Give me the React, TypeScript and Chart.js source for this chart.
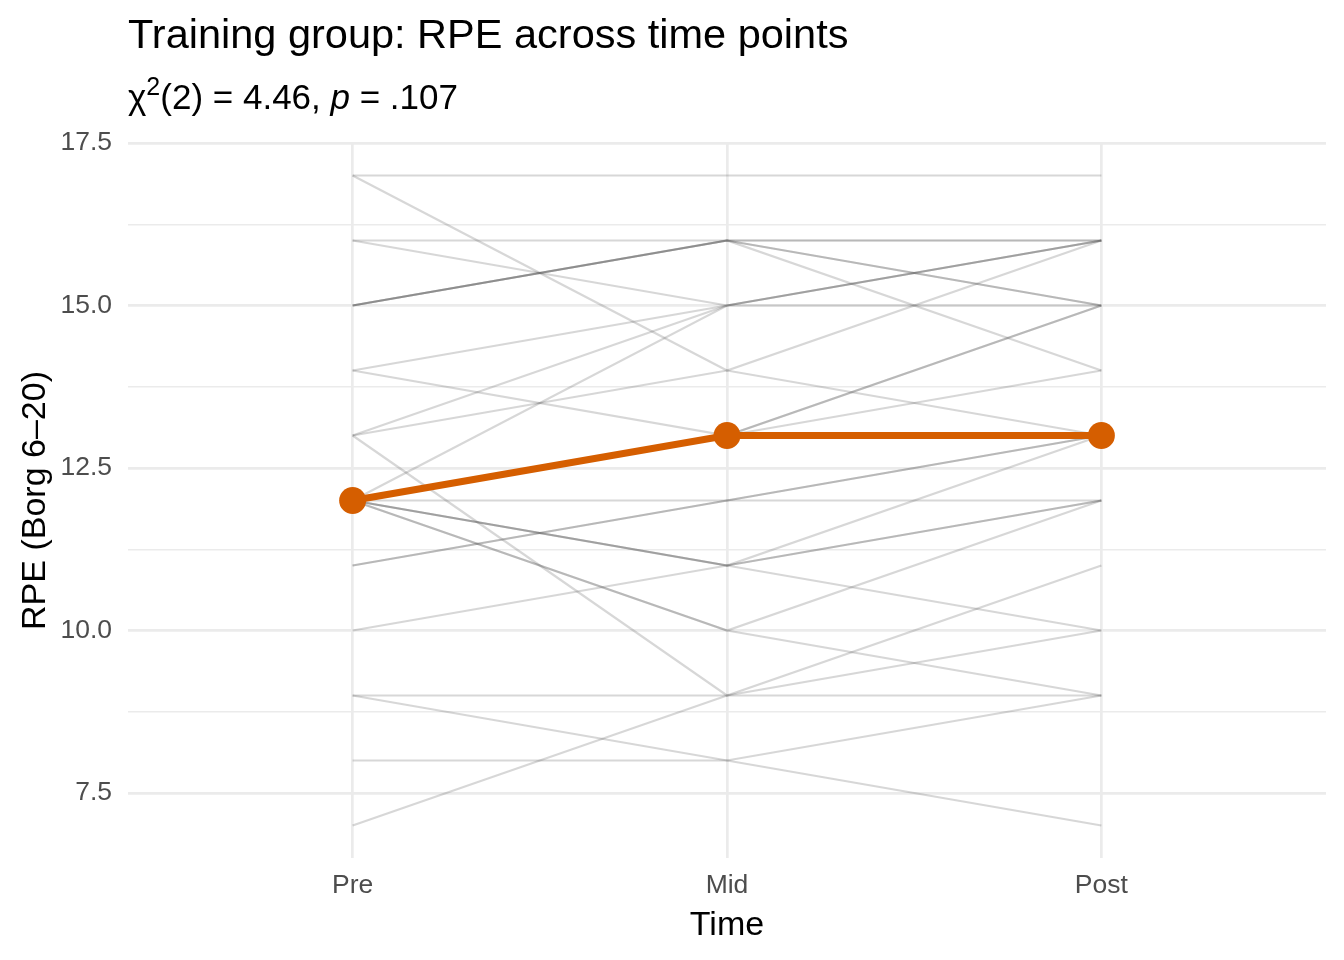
import React, { useEffect, useRef } from "react";
import { Chart, registerables } from "chart.js";

Chart.register(...registerables);

const timePoints = ["Pre", "Mid", "Post"];
// one entry per participant
const preRPE = [17, 16, 15, 15, 15, 15, 16, 14, 13, 12, 17, 13, 14, 12, 12, 12, 11, 11, 12, 12, 12, 10, 12, 12, 13, 9, 7, 9, 8];
const midRPE = [17, 16, 16, 16, 16, 16, 15, 15, 15, 15, 14, 14, 13, 13, 13, 12, 12, 12, 11, 11, 11, 11, 10, 10, 9, 9, 9, 8, 8];
const postRPE = [17, 16, 16, 15, 15, 14, 16, 16, 16, 15, 16, 13, 15, 15, 14, 12, 13, 13, 13, 12, 12, 10, 12, 9, 11, 9, 10, 9, 7];
const medianRPE = [12, 13, 13];
const yMajorTicks = [7.5, 10, 12.5, 15, 17.5];
const yMinorTicks = [8.75, 11.25, 13.75, 16.25];

const FONT = '"Liberation Sans", Arial, Helvetica, sans-serif';
const ORANGE = "#D55E00";

const textPlugin = {
  id: "ggText",
  afterDraw(chart: any) {
    const ctx = chart.ctx as CanvasRenderingContext2D;
    const area = chart.chartArea;
    ctx.save();
    ctx.fillStyle = "#000000";
    ctx.textBaseline = "alphabetic";
    ctx.textAlign = "left";
    // title
    ctx.font = `41.5px ${FONT}`;
    ctx.fillText("Training group: RPE across time points", area.left, 48);
    // subtitle with superscript and italic p
    let x = area.left;
    const base = 109;
    ctx.font = `35px ${FONT}`;
    ctx.fillText("χ", x, base);
    x += ctx.measureText("χ").width;
    ctx.font = `25px ${FONT}`;
    ctx.fillText("2", x, base - 14);
    x += ctx.measureText("2").width;
    ctx.font = `35px ${FONT}`;
    const s1 = "(2) = 4.46, ";
    ctx.fillText(s1, x, base);
    x += ctx.measureText(s1).width;
    ctx.font = `italic 35px ${FONT}`;
    ctx.fillText("p", x, base);
    x += ctx.measureText("p").width;
    ctx.font = `35px ${FONT}`;
    ctx.fillText(" = .107", x, base);
    // x axis title
    ctx.font = `34px ${FONT}`;
    ctx.textAlign = "center";
    ctx.fillText("Time", (area.left + area.right) / 2, 935);
    // y axis title
    ctx.translate(45, (area.top + area.bottom) / 2);
    ctx.rotate(-Math.PI / 2);
    ctx.fillText("RPE (Borg 6–20)", 0, 0);
    ctx.restore();
  },
};

export default function App() {
  const ref = useRef<HTMLCanvasElement>(null);

  useEffect(() => {
    const grayDatasets = preRPE.map((p, i) => ({
      label: `S${i + 1}`,
      data: [
        { x: 1, y: p },
        { x: 2, y: midRPE[i] },
        { x: 3, y: postRPE[i] },
      ],
      borderColor: "rgba(80,80,80,0.23)",
      borderWidth: 2.2,
      pointRadius: 0,
      tension: 0,
      fill: false,
    }));
    const medianDataset = {
      label: "Median",
      data: medianRPE.map((v, i) => ({ x: i + 1, y: v })),
      borderColor: ORANGE,
      backgroundColor: ORANGE,
      borderWidth: 7,
      pointRadius: 13.5,
      pointBackgroundColor: ORANGE,
      pointBorderWidth: 0,
      tension: 0,
      fill: false,
    };

    const chart = new Chart(ref.current as HTMLCanvasElement, {
      type: "line",
      data: { datasets: [medianDataset as any, ...grayDatasets] },
      options: {
        animation: false,
        responsive: false,
        devicePixelRatio: 1,
        layout: { padding: { top: 143, right: 18, bottom: 0, left: 0 } },
        plugins: {
          legend: { display: false },
          tooltip: { enabled: false },
          title: { display: false },
        },
        scales: {
          x: {
            type: "linear",
            min: 0.4,
            max: 3.6,
            afterBuildTicks: (s: any) => {
              s.ticks = [1, 2, 3].map((v) => ({ value: v }));
            },
            afterFit: (s: any) => {
              s.height = 102;
            },
            ticks: {
              callback: (v: any) => timePoints[Math.round(Number(v)) - 1] ?? "",
              color: "#4d4d4d",
              font: { size: 26.5, family: FONT },
              padding: 12,
              autoSkip: false,
              maxRotation: 0,
            },
            grid: { color: "#ebebeb", lineWidth: 2.7, drawTicks: false },
            border: { display: false },
          },
          y: {
            type: "linear",
            min: 6.5,
            max: 17.5,
            afterBuildTicks: (s: any) => {
              s.ticks = [...yMajorTicks, ...yMinorTicks]
                .sort((a, b) => a - b)
                .map((v) => ({ value: v }));
            },
            afterFit: (s: any) => {
              s.width = 128;
            },
            ticks: {
              callback: (v: any) =>
                yMajorTicks.includes(Number(v)) ? Number(v).toFixed(1) : "",
              color: "#4d4d4d",
              font: { size: 26.5, family: FONT },
              padding: 16,
              autoSkip: false,
            },
            grid: {
              color: "#ebebeb",
              lineWidth: (c: any) =>
                c.tick && yMinorTicks.includes(c.tick.value) ? 1.4 : 2.7,
              drawTicks: false,
            },
            border: { display: false },
          },
        },
      },
      plugins: [textPlugin],
    });
    return () => chart.destroy();
  }, []);

  return (
    <div style={{ position: "absolute", left: 0, top: 0, width: 1344, height: 960, background: "#fff" }}>
      <canvas ref={ref} width={1344} height={960} style={{ display: "block", width: 1344, height: 960 }} />
    </div>
  );
}
